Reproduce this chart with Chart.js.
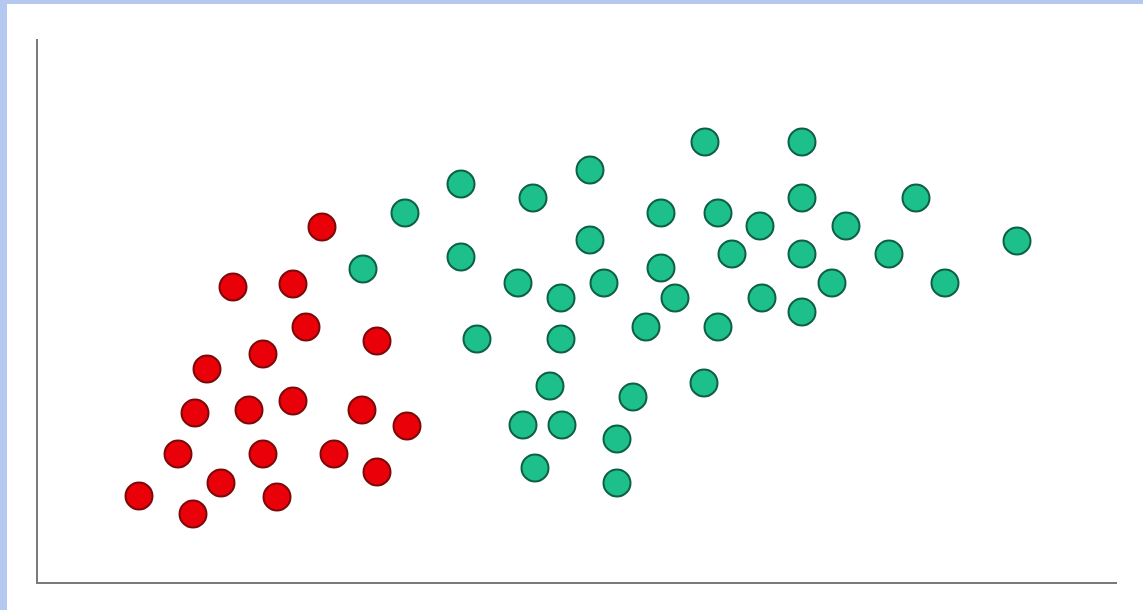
<!DOCTYPE html>
<html>
<head>
<meta charset="utf-8">
<script src="https://cdn.jsdelivr.net/npm/chart.js@4"></script>
<style>
  html, body { margin: 0; padding: 0; background: #ffffff; }
  #wrap { position: relative; width: 1143px; height: 610px; overflow: hidden; }
  #plot { position: absolute; left: 0; top: 0; }
  .edge { position: absolute; background: #b4c8f0; }
</style>
</head>
<body>
<div id="wrap">
  <canvas id="plot" width="1143" height="610"></canvas>
  <div class="edge" style="left:0;top:0;width:1143px;height:4px"></div>
  <div class="edge" style="left:0;top:0;width:7px;height:610px"></div>
</div>
<script>
// two clusters, values
var redX = [28.5, 19.6, 25.6, 26.9, 34.0, 22.6, 17.0, 15.8, 21.2, 25.6,
            32.5, 37.0, 14.1, 22.6, 29.7, 34.0, 18.4, 24.0, 10.2, 15.6];
var redY = [35.6, 29.6, 29.9, 25.6, 24.2, 22.9, 21.4, 17.0, 17.3, 18.2,
            17.3, 15.7, 12.9, 12.9, 12.9, 11.1, 10.0, 8.6, 8.7, 6.9];

var greenX = [32.6, 36.8, 42.4, 49.6, 55.3, 66.8, 76.5, 62.4, 68.1, 72.3,
              76.5, 55.3, 42.4, 69.5, 76.5, 62.4, 48.1, 56.7, 52.4, 63.8,
              72.5, 76.5, 44.0, 52.4, 60.9, 68.1, 51.3, 66.7, 59.6, 48.6,
              52.5, 58.0, 49.8, 58.0, 87.9, 80.9, 85.2, 98.0, 79.5, 90.8];
var greenY = [31.4, 37.0, 39.9, 38.5, 41.3, 44.1, 44.1, 37.0, 37.0, 35.7,
              38.5, 34.3, 32.6, 32.9, 32.9, 31.5, 30.0, 30.0, 28.5, 28.5,
              28.5, 27.1, 24.4, 24.4, 25.6, 25.6, 19.7, 20.0, 18.6, 15.8,
              15.8, 14.4, 11.5, 10.0, 38.5, 35.7, 32.9, 34.2, 30.0, 30.0];

var xMin = 0, xMax = 107.9;
var yMin = 0, yMax = 54.3;

function toPoints(xs, ys) {
    return xs.map(function (x, i) {
        return { x: x, y: ys[i] };
    });
}

var ctx = document.getElementById('plot').getContext('2d');
new Chart(ctx, {
    type: 'scatter',
    data: {
        datasets: [{
            label: 'red',
            data: toPoints(redX, redY),
            backgroundColor: '#ea0008',
            borderColor: '#7a0a0a',
            borderWidth: 2,
            pointRadius: 13.5,
            pointHoverRadius: 13.5
        }, {
            label: 'green',
            data: toPoints(greenX, greenY),
            backgroundColor: '#1dbf8b',
            borderColor: '#0d5f46',
            borderWidth: 2,
            pointRadius: 13.5,
            pointHoverRadius: 13.5
        }]
    },
    options: {
        responsive: false,
        animation: false,
        clip: false,
        layout: { padding: { left: 37, top: 40, right: 27, bottom: 27 } },
        plugins: {
            legend: { display: false },
            tooltip: { enabled: false }
        },
        scales: {
            x: {
                type: 'linear',
                min: xMin,
                max: xMax,
                ticks: { display: false },
                grid: { display: false, drawTicks: false },
                border: { display: true, color: '#7a7a7a', width: 2 }
            },
            y: {
                type: 'linear',
                min: yMin,
                max: yMax,
                ticks: { display: false },
                grid: { display: false, drawTicks: false },
                border: { display: true, color: '#7a7a7a', width: 2 }
            }
        }
    }
});
</script>
</body>
</html>
